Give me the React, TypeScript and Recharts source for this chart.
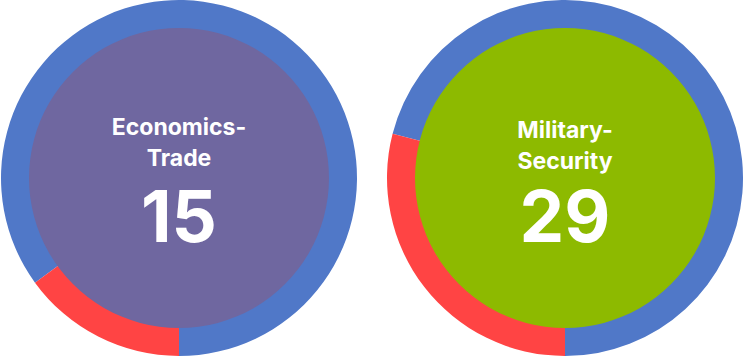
import React from "react";
import { PieChart, Pie, Cell, Label } from "recharts";

const topics = ["Economics-Trade", "Military-Security"];
const scores = [15, 29];
const centerColors = ["#6F67A0", "#8DBA00"];

const RING_COLORS = ["#5078C8", "#FF4444"];
const CENTERS = [179, 565];
const CY = 178;

function CenterLabel({ cx, cy, topic, score }: any) {
  const [a, b] = topic.split("-");
  const dy = topic.startsWith("Military") ? 3 : 0;
  return (
    <g fontFamily="Inter, sans-serif" fontWeight={700} fill="#ffffff" textAnchor="middle">
      <text x={cx} y={cy - 43 + dy} fontSize={23}>{a}-</text>
      <text x={cx} y={cy - 12 + dy} fontSize={23}>{b}</text>
      <text x={cx} y={cy + 64} fontSize={71}>{score}</text>
    </g>
  );
}

export default function App() {
  return (
    <div style={{ position: "absolute", left: 0, top: 0, width: 743, height: 357, background: "#fff" }}>
      <PieChart width={743} height={357} margin={{ top: 0, right: 0, bottom: 0, left: 0 }}>
        {topics.map((topic, i) => {
          const ring = [
            { name: "rest", value: 100 - scores[i] },
            { name: topic, value: scores[i] },
          ];
          return (
            <Pie
              key={"ring" + i}
              data={ring}
              dataKey="value"
              cx={CENTERS[i]}
              cy={CY}
              innerRadius={149}
              outerRadius={178}
              startAngle={-90}
              endAngle={270}
              stroke="none"
              isAnimationActive={false}
            >
              {ring.map((_, j) => (
                <Cell key={j} fill={RING_COLORS[j]} />
              ))}
            </Pie>
          );
        })}
        {topics.map((topic, i) => (
          <Pie
            key={"core" + i}
            data={[{ name: topic, value: scores[i] }]}
            dataKey="value"
            cx={CENTERS[i]}
            cy={CY}
            innerRadius={0}
            outerRadius={150}
            stroke="none"
            fill={centerColors[i]}
            isAnimationActive={false}
          >
            <Label
              position="center"
              content={() => <CenterLabel cx={CENTERS[i]} cy={CY} topic={topic} score={scores[i]} />}
            />
          </Pie>
        ))}
      </PieChart>
    </div>
  );
}
